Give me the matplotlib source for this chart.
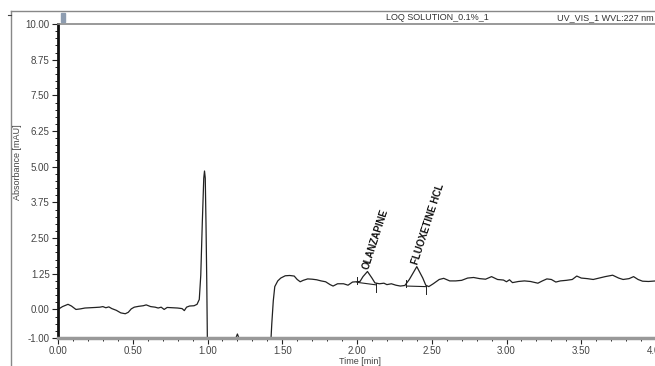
import matplotlib
matplotlib.use("Agg")
import matplotlib.pyplot as plt
from matplotlib.lines import Line2D
from matplotlib.ticker import MultipleLocator, FixedLocator

plt.rcParams['font.family'] = ['Liberation Sans', 'DejaVu Sans']

# chromatogram trace (time in min, absorbance in mAU)
time_min = [0.00, 0.03, 0.067, 0.09, 0.12, 0.15, 0.18, 0.22, 0.25, 0.28, 0.30, 0.32,
            0.34, 0.36, 0.39, 0.42, 0.45, 0.47, 0.49, 0.51, 0.54, 0.57, 0.59, 0.62,
            0.65, 0.67, 0.69, 0.71, 0.73, 0.76, 0.80, 0.83, 0.845, 0.86, 0.88, 0.91,
            0.93, 0.945, 0.955, 0.965, 0.975, 0.98, 0.985, 0.99, 0.995, 1.00,
            1.18, 1.19, 1.20, 1.21, 1.22, 1.42, 1.43, 1.44, 1.45, 1.47, 1.49, 1.52,
            1.55, 1.58, 1.60, 1.62, 1.64, 1.67, 1.70, 1.73, 1.76, 1.79, 1.82, 1.84,
            1.87, 1.91, 1.94, 1.97, 2.00, 2.02, 2.04, 2.07, 2.10, 2.12, 2.15, 2.18,
            2.20, 2.23, 2.26, 2.29, 2.32, 2.35, 2.40, 2.44, 2.46, 2.48, 2.51, 2.55,
            2.58, 2.62, 2.66, 2.70, 2.74, 2.78, 2.82, 2.86, 2.90, 2.94, 2.98, 3.00,
            3.02, 3.04, 3.08, 3.12, 3.16, 3.21, 3.24, 3.27, 3.30, 3.33, 3.36, 3.40,
            3.44, 3.47, 3.50, 3.54, 3.58, 3.62, 3.66, 3.71, 3.75, 3.78, 3.82, 3.85,
            3.88, 3.91, 3.95, 4.00, 4.05]
absorb = [0.00, 0.10, 0.18, 0.12, 0.00, 0.02, 0.05, 0.06, 0.07, 0.08, 0.10, 0.06,
          0.09, 0.03, -0.03, -0.12, -0.15, -0.10, 0.02, 0.08, 0.11, 0.13, 0.16, 0.10,
          0.08, 0.05, 0.08, 0.00, 0.07, 0.06, 0.05, 0.03, -0.04, 0.08, 0.12, 0.13,
          0.18, 0.35, 1.20, 3.00, 4.60, 4.85, 4.60, 3.00, 1.00, -1.50,
          -1.50, -1.00, -0.86, -1.00, -1.50, -1.50, -0.50, 0.30, 0.80, 1.00, 1.10, 1.18,
          1.19, 1.17, 1.05, 0.97, 1.02, 1.07, 1.06, 1.04, 1.00, 0.97, 0.87, 0.82,
          0.90, 0.90, 0.85, 0.96, 0.97, 0.98, 1.15, 1.33, 1.10, 0.93, 0.90, 0.92,
          0.87, 0.90, 0.85, 0.82, 0.84, 1.05, 1.50, 1.10, 0.85, 0.80, 0.90, 1.05,
          1.09, 1.00, 1.00, 1.02, 1.10, 1.12, 1.08, 1.06, 1.15, 1.05, 1.03, 0.97,
          1.04, 0.94, 0.98, 1.00, 0.98, 0.92, 1.00, 1.07, 1.05, 0.96, 1.00, 1.02,
          1.05, 1.17, 1.10, 1.08, 1.05, 1.10, 1.15, 1.20, 1.10, 1.05, 1.08, 1.15,
          1.05, 0.99, 0.98, 1.00, 1.00]

# integrated peaks: name, apex, baseline start/end
peak_names = ['OLANZAPINE', 'FLUOXETINE HCL']
peak_apex_t = [2.07, 2.40]
peak_apex_y = [1.33, 1.50]
base_t0 = [2.00, 2.33]
base_y0 = [0.95, 0.82]
base_t1 = [2.13, 2.46]
base_y1 = [0.86, 0.80]

x_ticks = [0.0, 0.5, 1.0, 1.5, 2.0, 2.5, 3.0, 3.5, 4.0]
y_ticks = [-1.00, 0.00, 1.25, 2.50, 3.75, 5.00, 6.25, 7.50, 8.75, 10.00]

fig = plt.figure(figsize=(6.55, 3.66), dpi=100)
ax = fig.add_axes([58 / 655, 1 - 338 / 366, 598 / 655, 314 / 366])

ax.plot(time_min, absorb, color='#222222', lw=0.9)

for i in range(len(peak_names)):
    ax.plot([base_t0[i], base_t1[i]], [base_y0[i], base_y1[i]], color='#222222', lw=0.8)
    ax.plot([base_t0[i], base_t0[i]], [base_y0[i] - 0.05, base_y0[i] + 0.2], color='#222222', lw=0.7)
    ax.plot([base_t1[i], base_t1[i]], [base_y1[i] + 0.05, base_y1[i] - 0.25], color='#222222', lw=0.7)
    ax.text(peak_apex_t[i] - 0.01, peak_apex_y[i] + 0.1, peak_names[i], rotation=72,
            rotation_mode='anchor', ha='left', va='center', fontsize=7,
            fontweight='bold', color='#111111')

ax.set_xlim(0, 4.0)
ax.set_ylim(-1.0, 10.0)
ax.xaxis.set_major_locator(FixedLocator(x_ticks))
ax.xaxis.set_minor_locator(MultipleLocator(0.1))
ax.yaxis.set_major_locator(FixedLocator(y_ticks))
ax.yaxis.set_minor_locator(MultipleLocator(0.25))
ax.set_xticklabels(['%.2f' % v for v in x_ticks])
ax.set_yticklabels(['%.2f' % v for v in y_ticks])
ax.tick_params(axis='both', which='major', labelsize=7, length=4, width=0.8,
               colors='#222222', labelcolor='#444444', pad=2)
ax.tick_params(axis='both', which='minor', length=2.5, width=0.7, colors='#222222')

ax.spines['right'].set_visible(False)
ax.spines['top'].set_color('#888888')
ax.spines['top'].set_linewidth(1.2)
ax.spines['left'].set_linewidth(2.0)
ax.spines['left'].set_color('#111111')
ax.spines['bottom'].set_linewidth(2.5)
ax.spines['bottom'].set_color('#999999')

# header strip and outer frame
fig.add_artist(Line2D([11 / 655, 1.0], [1 - 11 / 366, 1 - 11 / 366], color='#888888', lw=1.0))
fig.add_artist(Line2D([11 / 655, 11 / 655], [0, 1 - 11 / 366], color='#888888', lw=1.0))
fig.add_artist(Line2D([8 / 655, 11 / 655], [1 - 15 / 366, 1 - 15 / 366], color='#444444', lw=0.8))
fig.add_artist(plt.Rectangle((61 / 655, 1 - 22 / 366), 4 / 655, 9 / 366, color='#8d9cb0'))
fig.text(437 / 655, 1 - 17.5 / 366, 'LOQ SOLUTION_0.1%_1', ha='center', va='center',
         fontsize=6.5, color='#333333')
fig.text(654 / 655, 1 - 17.5 / 366, 'UV_VIS_1 WVL:227 nm', ha='right', va='center',
         fontsize=6.5, color='#333333')

fig.text(18 / 655, 1 - 162 / 366, 'Absorbance [mAU]', rotation=90, ha='center',
         va='center', fontsize=6.5, color='#444444')
fig.text(360 / 655, 1 - 361 / 366, 'Time [min]', ha='center', va='center',
         fontsize=6.5, color='#444444')

fig.savefig('out.png', dpi=100)
